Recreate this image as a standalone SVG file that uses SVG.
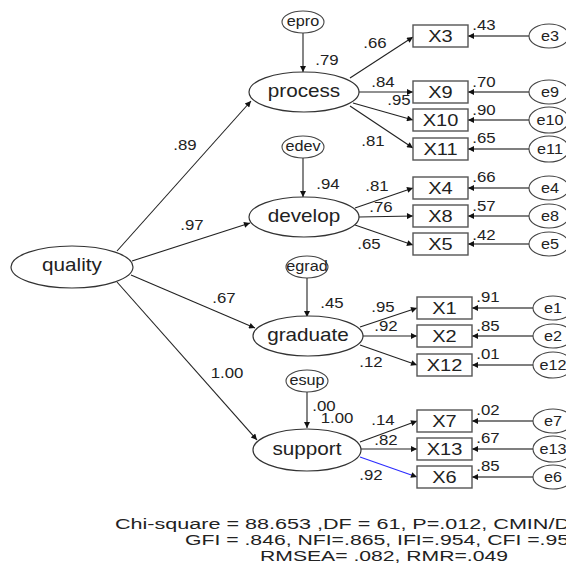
<svg xmlns="http://www.w3.org/2000/svg" width="566" height="567" viewBox="0 0 566 567">
<style>
.n{fill:#fff;stroke:#333;stroke-width:1.2}
.b{fill:#fff;stroke:#555;stroke-width:1.4}
.e{fill:#fff;stroke:#444;stroke-width:1.1}
text{font-family:"Liberation Sans",Arial,sans-serif;fill:#222;text-anchor:middle;transform-box:fill-box;transform-origin:center}
.lat{font-size:18px;transform:scaleX(1.15)}
.bx{font-size:16px;transform:scaleX(1.25)}
.er{font-size:15px;transform:scaleX(1.08)}
.c{font-size:14px;transform:scaleX(1.2)}
.fit{font-size:14px;text-anchor:start}
.l{stroke:#222;stroke-width:1.1;fill:none;marker-end:url(#ah)}
.g{stroke:#555;stroke-width:1.3;fill:none;marker-end:url(#ah)}
.bl{stroke:#2b2bff;stroke-width:1.1;fill:none;marker-end:url(#ah)}
</style>
<defs>
<marker id="ah" viewBox="0 0 10 10" refX="10" refY="5" markerWidth="10" markerHeight="6" markerUnits="userSpaceOnUse" orient="auto"><path d="M0,0 L10,5 L0,10 z" fill="#111"/></marker>
</defs>
<rect width="566" height="567" fill="#fff"/>
<g id="connectors">
<line class="l" x1="117" y1="251" x2="251" y2="101"/>
<line class="l" x1="132" y1="261" x2="250" y2="223"/>
<line class="l" x1="131" y1="275" x2="255" y2="328"/>
<line class="l" x1="117" y1="282" x2="257" y2="440"/>
<line class="l" x1="303" y1="33" x2="303" y2="72"/>
<line class="l" x1="303" y1="158" x2="303" y2="197"/>
<line class="l" x1="307" y1="278" x2="307" y2="317"/>
<line class="l" x1="307" y1="392" x2="307" y2="428"/>
<line class="l" x1="350" y1="78" x2="413" y2="37"/>
<line class="l" x1="359" y1="92" x2="413" y2="92"/>
<line class="l" x1="353" y1="103" x2="413" y2="120"/>
<line class="l" x1="350" y1="106" x2="413" y2="148"/>
<line class="l" x1="355" y1="208" x2="413" y2="188"/>
<line class="l" x1="359" y1="217" x2="413" y2="216"/>
<line class="l" x1="355" y1="225" x2="413" y2="245"/>
<line class="l" x1="360" y1="327" x2="417" y2="308"/>
<line class="l" x1="363" y1="336" x2="417" y2="336"/>
<line class="l" x1="360" y1="345" x2="417" y2="365"/>
<line class="l" x1="360" y1="442" x2="417" y2="421"/>
<line class="l" x1="361" y1="449" x2="417" y2="449"/>
<line class="bl" x1="360" y1="457" x2="417" y2="477"/>
<line class="g" x1="529" y1="36" x2="468" y2="36"/>
<line class="g" x1="529" y1="92" x2="468" y2="92"/>
<line class="g" x1="529" y1="120" x2="468" y2="120"/>
<line class="g" x1="529" y1="149" x2="468" y2="149"/>
<line class="g" x1="529" y1="188" x2="468" y2="188"/>
<line class="g" x1="529" y1="216" x2="468" y2="216"/>
<line class="g" x1="529" y1="244" x2="468" y2="244"/>
<line class="g" x1="533" y1="308" x2="472" y2="308"/>
<line class="g" x1="533" y1="336" x2="472" y2="336"/>
<line class="g" x1="533" y1="365" x2="472" y2="365"/>
<line class="g" x1="533" y1="421" x2="472" y2="421"/>
<line class="g" x1="533" y1="449" x2="472" y2="449"/>
<line class="g" x1="533" y1="477" x2="472" y2="477"/>
</g>
<g id="quality"><ellipse class="n" cx="72" cy="267" rx="61" ry="21"/><text class="lat" x="72" y="271">quality</text></g>
<g id="process"><ellipse class="n" cx="304" cy="92" rx="55" ry="20"/><text class="lat" x="304" y="97">process</text></g>
<g id="develop"><ellipse class="n" cx="304" cy="217" rx="55" ry="20"/><text class="lat" x="304" y="222">develop</text></g>
<g id="graduate"><ellipse class="n" cx="308" cy="336" rx="55" ry="20"/><text class="lat" x="308" y="341">graduate</text></g>
<g id="support"><ellipse class="n" cx="307" cy="450" rx="54" ry="21"/><text class="lat" x="307" y="455">support</text></g>
<g id="epro"><ellipse class="e" cx="303" cy="22" rx="21" ry="11"/><text class="er" x="303" y="26">epro</text></g>
<g id="edev"><ellipse class="e" cx="303" cy="147" rx="21" ry="11"/><text class="er" x="303" y="151">edev</text></g>
<g id="egrad"><ellipse class="e" cx="307" cy="267" rx="21" ry="11"/><text class="er" x="307" y="271">egrad</text></g>
<g id="esup"><ellipse class="e" cx="307" cy="381" rx="21" ry="11"/><text class="er" x="307" y="385">esup</text></g>
<g id="X3"><rect class="b" x="413" y="25" width="55" height="22"/><text class="bx" x="440.5" y="42">X3</text></g>
<g id="X9"><rect class="b" x="413" y="81" width="55" height="22"/><text class="bx" x="440.5" y="98">X9</text></g>
<g id="X10"><rect class="b" x="413" y="109" width="55" height="22"/><text class="bx" x="440.5" y="126">X10</text></g>
<g id="X11"><rect class="b" x="413" y="138" width="55" height="22"/><text class="bx" x="440.5" y="155">X11</text></g>
<g id="X4"><rect class="b" x="413" y="177" width="55" height="22"/><text class="bx" x="440.5" y="194">X4</text></g>
<g id="X8"><rect class="b" x="413" y="205" width="55" height="22"/><text class="bx" x="440.5" y="222">X8</text></g>
<g id="X5"><rect class="b" x="413" y="233" width="55" height="22"/><text class="bx" x="440.5" y="250">X5</text></g>
<g id="X1"><rect class="b" x="417" y="297" width="55" height="22"/><text class="bx" x="444.5" y="314">X1</text></g>
<g id="X2"><rect class="b" x="417" y="325" width="55" height="22"/><text class="bx" x="444.5" y="342">X2</text></g>
<g id="X12"><rect class="b" x="417" y="354" width="55" height="22"/><text class="bx" x="444.5" y="371">X12</text></g>
<g id="X7"><rect class="b" x="417" y="410" width="55" height="22"/><text class="bx" x="444.5" y="427">X7</text></g>
<g id="X13"><rect class="b" x="417" y="438" width="55" height="22"/><text class="bx" x="444.5" y="455">X13</text></g>
<g id="X6"><rect class="b" x="417" y="466" width="55" height="22"/><text class="bx" x="444.5" y="483">X6</text></g>
<g id="e3"><ellipse class="e" cx="549" cy="36" rx="20" ry="12"/><text class="er" x="550" y="41">e3</text></g>
<g id="e9"><ellipse class="e" cx="549" cy="92" rx="20" ry="12"/><text class="er" x="550" y="97">e9</text></g>
<g id="e10"><ellipse class="e" cx="549" cy="120" rx="20" ry="13"/><text class="er" x="550" y="125">e10</text></g>
<g id="e11"><ellipse class="e" cx="549" cy="149" rx="20" ry="13"/><text class="er" x="550" y="154">e11</text></g>
<g id="e4"><ellipse class="e" cx="549" cy="188" rx="20" ry="12"/><text class="er" x="550" y="193">e4</text></g>
<g id="e8"><ellipse class="e" cx="549" cy="216" rx="20" ry="12"/><text class="er" x="550" y="221">e8</text></g>
<g id="e5"><ellipse class="e" cx="549" cy="244" rx="20" ry="12"/><text class="er" x="550" y="249">e5</text></g>
<g id="e1"><ellipse class="e" cx="553" cy="308" rx="20" ry="12"/><text class="er" x="553" y="313">e1</text></g>
<g id="e2"><ellipse class="e" cx="553" cy="336" rx="20" ry="12"/><text class="er" x="553" y="341">e2</text></g>
<g id="e12"><ellipse class="e" cx="553" cy="365" rx="20" ry="13"/><text class="er" x="553" y="370">e12</text></g>
<g id="e7"><ellipse class="e" cx="553" cy="421" rx="20" ry="12"/><text class="er" x="553" y="426">e7</text></g>
<g id="e13"><ellipse class="e" cx="553" cy="449" rx="20" ry="13"/><text class="er" x="553" y="454">e13</text></g>
<g id="e6"><ellipse class="e" cx="553" cy="477" rx="20" ry="12"/><text class="er" x="553" y="482">e6</text></g>
<g id="labels">
<text class="c" x="185" y="150">.89</text>
<text class="c" x="192" y="230">.97</text>
<text class="c" x="224" y="303">.67</text>
<text class="c" x="227" y="378">1.00</text>
<text class="c" x="327" y="65">.79</text>
<text class="c" x="375" y="48">.66</text>
<text class="c" x="383" y="87">.84</text>
<text class="c" x="399" y="105">.95</text>
<text class="c" x="373" y="146">.81</text>
<text class="c" x="484" y="30">.43</text>
<text class="c" x="484" y="87">.70</text>
<text class="c" x="484" y="115">.90</text>
<text class="c" x="484" y="143">.65</text>
<text class="c" x="328" y="189">.94</text>
<text class="c" x="377" y="191">.81</text>
<text class="c" x="381" y="212">.76</text>
<text class="c" x="369" y="249">.65</text>
<text class="c" x="484" y="182">.66</text>
<text class="c" x="484" y="211">.57</text>
<text class="c" x="484" y="240">.42</text>
<text class="c" x="332" y="308">.45</text>
<text class="c" x="383" y="312">.95</text>
<text class="c" x="386" y="331">.92</text>
<text class="c" x="371" y="367">.12</text>
<text class="c" x="488" y="302">.91</text>
<text class="c" x="488" y="331">.85</text>
<text class="c" x="488" y="359">.01</text>
<text class="c" x="324" y="411">.00</text>
<text class="c" x="337" y="423">1.00</text>
<text class="c" x="383" y="425">.14</text>
<text class="c" x="386" y="445">.82</text>
<text class="c" x="371" y="480">.92</text>
<text class="c" x="488" y="415">.02</text>
<text class="c" x="488" y="443">.67</text>
<text class="c" x="488" y="471">.85</text>
</g>
<g id="fit">
<text class="fit" x="115" y="529" textLength="455" lengthAdjust="spacingAndGlyphs">Chi-square = 88.653 ,DF = 61, P=.012, CMIN/D</text>
<text class="fit" x="185" y="545" textLength="384" lengthAdjust="spacingAndGlyphs">GFI = .846, NFI=.865, IFI=.954, CFI =.95</text>
<text class="fit" x="260" y="561" textLength="248" lengthAdjust="spacingAndGlyphs">RMSEA= .082, RMR=.049</text>
</g>
</svg>
